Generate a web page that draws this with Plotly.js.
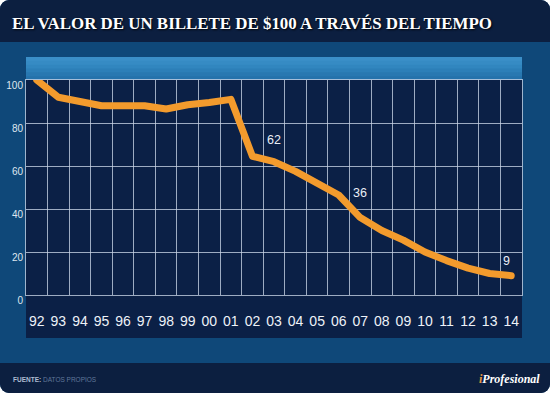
<!DOCTYPE html>
<html>
<head>
<meta charset="utf-8">
<script src="https://cdn.plot.ly/plotly-3.0.1.min.js"></script>
<style>
  html, body { margin: 0; padding: 0; background: #ffffff; }
  #chart { width: 550px; height: 393px; border-radius: 9px; overflow: hidden; }
  #chart .js-line { stroke-linejoin: round; stroke-linecap: round; }
</style>
</head>
<body>
<div id="chart"></div>
<script>
// ---- data ----
const years = ['92','93','94','95','96','97','98','99','00','01','02','03','04','05','06','07','08','09','10','11','12','13','14'];
const values = [100, 92, 90, 88, 88, 88, 86.5, 88.5, 89.5, 91, 64.5, 62, 57.5, 52, 46.5, 36, 30, 25.5, 20, 16, 12.5, 10, 9];
const labelYears = ['03', '07', '14'];
const yTicks = [0, 20, 40, 60, 80, 100];

const titleText = 'EL VALOR DE UN BILLETE DE $100 A TRAVÉS DEL TIEMPO';
const sourceLabel = 'FUENTE:';
const sourceText = 'DATOS PROPIOS';
const brandText = 'Profesional';

// ---- styles ----
const darkNavy = '#0c1f40';
const midBlue = '#0f4879';
const plotNavy = '#0b2046';
const gridCol = 'rgba(200,211,230,0.78)';
const lineCol = '#f39b2d';

// helpers: pixel -> paper (plot area x 26..522, y 80..295)
const px = p => (p - 26) / 496;
const py = p => (295 - p) / 215;

const trace = {
  x: years,
  y: values,
  type: 'scatter',
  mode: 'lines',
  line: { color: lineCol, width: 7 },
  hoverinfo: 'skip',
  showlegend: false
};

const labelShift = { '03': [0, 22], '07': [0, 25], '14': [-5, 15] };
const annotations = labelYears.map(yr => {
  const i = years.indexOf(yr);
  const v = values[i];
  return {
    x: i, y: v, xref: 'x', yref: 'y',
    text: String(v), showarrow: false,
    xshift: labelShift[yr][0], yshift: labelShift[yr][1],
    font: { family: 'Arial, Liberation Sans, sans-serif', size: 12.5, color: '#e9eef6' }
  };
});

annotations.push({
  xref: 'paper', yref: 'paper', x: px(11), y: py(379),
  xanchor: 'left', yanchor: 'middle', showarrow: false,
  text: '<b><span style="color:#aebcd2">' + sourceLabel + '</span></b> <span style="color:#60779a">' + sourceText + '</span>',
  font: { family: 'Arial, Liberation Sans, sans-serif', size: 6.5, color: '#aebcd2' }
});
annotations.push({
  xref: 'paper', yref: 'paper', x: px(542), y: py(379),
  xanchor: 'right', yanchor: 'middle', showarrow: false,
  text: '<b><i><span style="color:#e3963c">i</span>' + brandText + '</i></b>',
  font: { family: 'Liberation Serif, serif', size: 12, color: '#ffffff' }
});

// strip gradient (light on top, darker at bottom), stacked without seams
const stripCols = ['#3b8fc8', '#368bc4', '#3186bf', '#2c7fb8', '#2878b1', '#2472ab'];
const stripTop = py(57), stripBot = py(80);
const stripShapes = stripCols.map((c, i) => {
  const h = (stripTop - stripBot) / stripCols.length;
  return {
    type: 'rect', xref: 'paper', yref: 'paper', layer: 'below',
    x0: 0, x1: 1, y0: stripBot, y1: stripTop - i * h,
    fillcolor: c, line: { width: 0 }
  };
});

const shapes = [
  { type: 'rect', xref: 'paper', yref: 'paper', layer: 'below',
    x0: -0.1, x1: 1.1, y0: py(42), y1: 1.6, fillcolor: darkNavy, line: { width: 0 } },
  { type: 'rect', xref: 'paper', yref: 'paper', layer: 'below',
    x0: -0.1, x1: 1.1, y0: -0.6, y1: py(363), fillcolor: darkNavy, line: { width: 0 } },
  { type: 'rect', xref: 'paper', yref: 'paper', layer: 'below',
    x0: 0, x1: 1, y0: py(338), y1: 0, fillcolor: plotNavy, line: { width: 0 } }
].concat(stripShapes);

const layout = {
  width: 550,
  height: 393,
  margin: { l: 26, r: 28, t: 80, b: 98 },
  paper_bgcolor: midBlue,
  plot_bgcolor: plotNavy,
  title: {
    text: titleText,
    xref: 'container', yref: 'container',
    x: 12 / 550, xanchor: 'left',
    y: 1 - 23 / 393, yanchor: 'middle',
    font: { family: 'Liberation Serif, Times New Roman, serif', size: 16.9, color: '#ffffff', weight: 'bold',
            shadow: '1px 1px 2px rgba(0,0,0,0.9)' }
  },
  xaxis: {
    type: 'category',
    tickson: 'boundaries',
    range: [-0.5, years.length - 0.5],
    showgrid: true, gridcolor: gridCol, gridwidth: 1,
    showline: true, linecolor: gridCol, linewidth: 1, mirror: true,
    ticks: '', zeroline: false,
    tickangle: 0,
    ticklabelstandoff: 13,
    tickfont: { family: 'Arial, Liberation Sans, sans-serif', size: 14, color: '#eef2f8' },
    fixedrange: true
  },
  yaxis: {
    range: [0, 100],
    tickvals: yTicks,
    showgrid: true, gridcolor: gridCol, gridwidth: 1,
    showline: true, linecolor: gridCol, linewidth: 1, mirror: true,
    ticks: '', zeroline: false,
    ticklabelstandoff: 0,
    ticklabelshift: 5,
    tickfont: { family: 'Arial, Liberation Sans, sans-serif', size: 10, color: '#dfe6ef' },
    fixedrange: true
  },
  shapes: shapes,
  annotations: annotations,
  showlegend: false
};

Plotly.newPlot('chart', [trace], layout, { displayModeBar: false, staticPlot: true });
</script>
</body>
</html>
